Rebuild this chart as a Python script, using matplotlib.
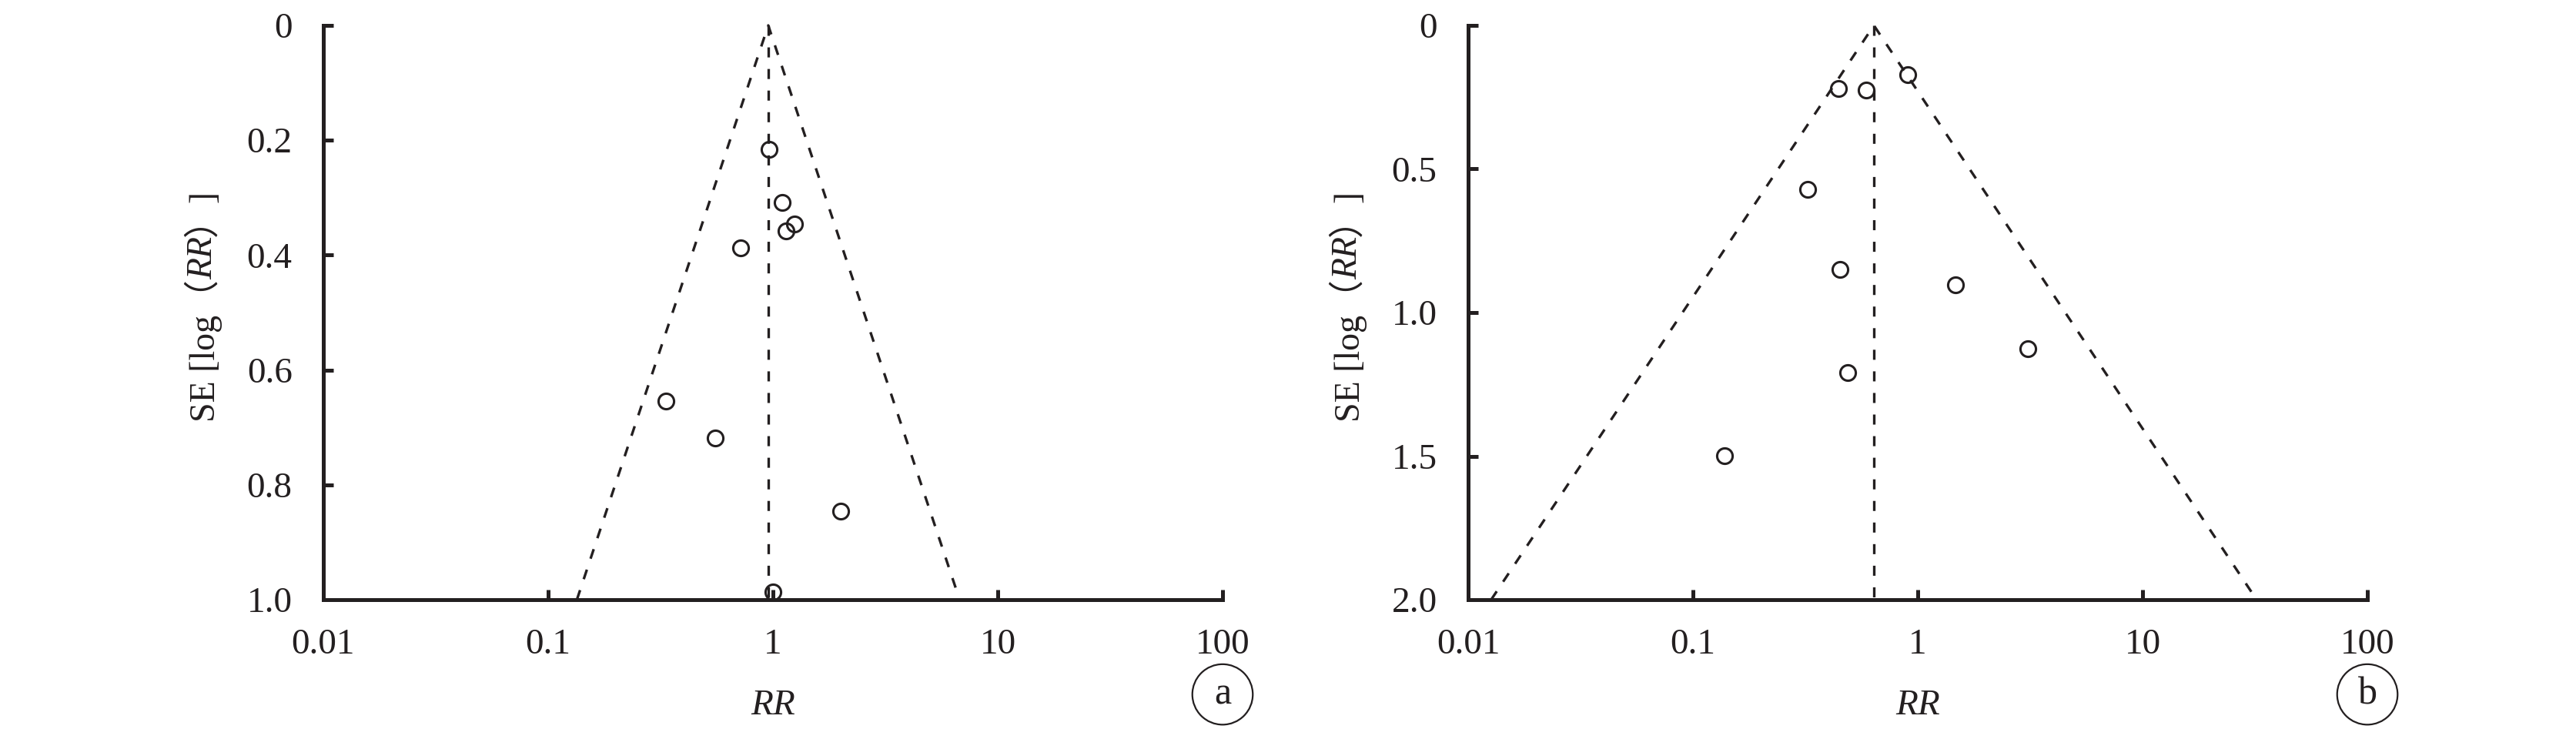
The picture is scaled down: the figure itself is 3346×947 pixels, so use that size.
import numpy as np
import matplotlib
matplotlib.use("Agg")
import matplotlib.pyplot as plt

plt.rcParams['font.family'] = ['Liberation Serif', 'Noto Sans CJK SC']

# panel a
a_rr = [0.96, 1.10, 1.25, 1.14, 0.72, 0.335, 0.555, 2.0, 1.0]
a_se = [0.216, 0.308, 0.346, 0.358, 0.387, 0.654, 0.719, 0.846, 0.986]
a_pooled = 0.953
a_semax = 1.0
a_yticks = [0, 0.2, 0.4, 0.6, 0.8, 1.0]
a_ylabels = ['0', '0.2', '0.4', '0.6', '0.8', '1.0']

# panel b
b_rr = [0.90, 0.443, 0.59, 0.324, 0.452, 1.47, 3.09, 0.488, 0.138]
b_se = [0.172, 0.220, 0.225, 0.570, 0.850, 0.904, 1.125, 1.210, 1.498]
b_pooled = 0.638
b_semax = 2.0
b_yticks = [0, 0.5, 1.0, 1.5, 2.0]
b_ylabels = ['0', '0.5', '1.0', '1.5', '2.0']

xticks = [0.01, 0.1, 1, 10, 100]
xlabels = ['0.01', '0.1', '1', '10', '100']

# y label pieces: (text, italic)
ylab_parts = [('SE [log（', False), ('RR', True), ('）]', False)]

ink = '#231f20'

fig = plt.figure(figsize=(33.46, 9.47), dpi=100)
ax_a = fig.add_axes([420 / 3346, 1 - 779 / 947, 1168 / 3346, 746 / 947])
ax_b = fig.add_axes([1907 / 3346, 1 - 779 / 947, 1168 / 3346, 746 / 947])

dash = (0, (9.4 / 2.4, 10.8 / 2.4))


def funnel(ax, rr, se, pooled, semax, yticks, ylabels, tag):
    lo = pooled * np.exp(-1.96 * semax)
    hi = pooled * np.exp(1.96 * semax)
    ax.plot([lo, pooled, hi], [semax, 0, semax], color=ink, lw=2.4,
            linestyle=dash, clip_on=False)
    ax.plot([pooled, pooled], [0, semax], color=ink, lw=2.4,
            linestyle=dash, clip_on=False)
    ax.plot(rr, se, 'o', mfc='none', mec=ink, ms=14.5, mew=2.2,
            clip_on=False)

    ax.set_xscale('log')
    ax.set_xlim(0.01, 100)
    ax.set_ylim(semax, 0)
    ax.set_xticks(xticks)
    ax.set_xticklabels(xlabels)
    ax.minorticks_off()
    ax.set_yticks(yticks)
    ax.set_yticklabels(ylabels)

    for s in ['top', 'right']:
        ax.spines[s].set_visible(False)
    for s in ['left', 'bottom']:
        ax.spines[s].set_linewidth(3.6)
        ax.spines[s].set_color(ink)
    ax.tick_params(direction='in', length=9.4, width=3.6, color=ink,
                   labelsize=34, labelcolor=ink)
    ax.tick_params(axis='x', pad=27)
    ax.tick_params(axis='y', pad=29)

    ax.set_xlabel('RR', fontsize=34, style='italic', labelpad=26, color=ink)

    # y label in pieces so RR can be italic, each stacked on the previous one
    prev = None
    for txt, ital in ylab_parts:
        style = 'italic' if ital else 'normal'
        if prev is None:
            prev = ax.text(-0.1336, 0.31, txt, rotation=90, fontsize=33,
                           style=style, ha='center', va='bottom', color=ink,
                           transform=ax.transAxes)
        else:
            prev = ax.annotate(txt, xy=(0.5, 1), xycoords=prev, rotation=90,
                               fontsize=33, style=style, ha='center',
                               va='bottom', color=ink)

    ax.text(1.0, -0.165, tag, transform=ax.transAxes, fontsize=36,
            ha='center', va='center', color=ink,
            bbox=dict(boxstyle='circle,pad=0.32', fc='none', ec=ink, lw=1.6))


funnel(ax_a, a_rr, a_se, a_pooled, a_semax, a_yticks, a_ylabels, 'a')
funnel(ax_b, b_rr, b_se, b_pooled, b_semax, b_yticks, b_ylabels, 'b')

fig.savefig('out.png', dpi=100)
